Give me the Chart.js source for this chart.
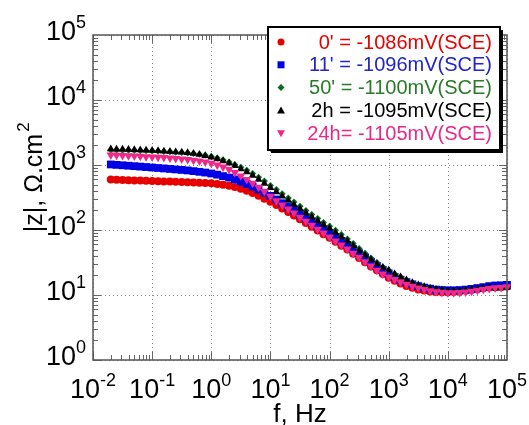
<!DOCTYPE html>
<html>
<head>
<meta charset="utf-8">
<script src="https://cdn.jsdelivr.net/npm/chart.js@4.4.0/dist/chart.umd.min.js"></script>
<style>
  html, body { margin: 0; padding: 0; background: #fff; }
  canvas { display: block; }
</style>
</head>
<body>
<canvas id="bodeChart" width="529" height="425"></canvas>
<script>
// frequencies (Hz) and |Z| (ohm.cm2), ~10 points per decade
const freqHz = [0.02, 0.025, 0.0316, 0.0398, 0.05, 0.063, 0.079,
    0.1, 0.126, 0.158, 0.2, 0.25, 0.316, 0.398, 0.5, 0.63, 0.79,
    1, 1.26, 1.58, 2, 2.5, 3.16, 3.98, 5, 6.3, 7.9,
    10, 12.6, 15.8, 20, 25, 31.6, 39.8, 50, 63, 79,
    100, 126, 158, 200, 251, 316, 398, 501, 631, 794,
    1000, 1259, 1585, 1995, 2512, 3162, 3981, 5012, 6310, 7943,
    10000, 12589, 15849, 19953, 25119, 31623, 39811, 50119, 63096, 79433,
    100000];

const z0min = [600, 595, 590, 585, 580, 575, 570,
    565, 562, 558, 555, 552, 548, 545, 540, 535, 530,
    522, 512, 498, 480, 458, 432, 402, 370, 337, 303,
    272, 243, 215, 190, 167, 146, 128, 112, 98, 86,
    76, 66, 57, 50, 43, 37, 32, 27.5, 24, 21,
    18.5, 16.5, 15, 13.8, 12.9, 12.2, 11.7, 11.3, 11.1, 11.0,
    11.0, 11.1, 11.3, 11.6, 11.9, 12.3, 12.7, 13.0, 13.2, 13.3,
    13.5];
const z11min = [1020, 1005, 990, 975, 960, 945, 930,
    915, 900, 885, 870, 855, 840, 825, 805, 785, 765,
    740, 710, 675, 640, 600, 555, 510, 465, 420, 375,
    335, 295, 258, 226, 198, 173, 151, 132, 116, 102,
    89, 78, 68, 59, 51, 44, 38, 32.5, 28, 24.5,
    21.5, 19, 17.2, 15.8, 14.6, 13.7, 13.0, 12.5, 12.1, 11.9,
    11.8, 11.8, 11.9, 12.1, 12.4, 12.8, 13.2, 13.7, 14.0, 14.1,
    14.3];
const z50min = [1700, 1695, 1690, 1680, 1670, 1660, 1650,
    1640, 1625, 1610, 1595, 1575, 1555, 1530, 1500, 1460, 1410,
    1350, 1280, 1200, 1110, 1020, 925, 830, 740, 650, 565,
    485, 420, 362, 312, 270, 232, 200, 173, 150, 130,
    114, 99, 85, 73, 62, 52, 44, 37, 31.5, 27,
    24, 21, 19, 17, 15.5, 14.3, 13.4, 12.7, 12.2, 11.9,
    11.6, 11.5, 11.6, 11.8, 12.0, 12.4, 12.7, 12.8, 12.7, 12.8,
    13.0];
const z2h = [1760, 1750, 1740, 1725, 1710, 1695, 1680,
    1665, 1650, 1630, 1610, 1590, 1565, 1540, 1500, 1450, 1390,
    1320, 1240, 1150, 1060, 970, 870, 780, 690, 600, 520,
    445, 385, 330, 285, 245, 212, 183, 158, 137, 120,
    105, 91, 78, 67, 57, 48, 41, 35, 30, 26.5,
    24, 21, 19, 17, 15.5, 14.3, 13.4, 12.7, 12.2, 11.9,
    11.6, 11.5, 11.6, 11.8, 12.1, 12.5, 12.8, 12.9, 12.7, 12.8,
    13.1];
const z24h = [1420, 1410, 1400, 1390, 1375, 1360, 1345,
    1330, 1315, 1300, 1280, 1260, 1240, 1215, 1185, 1150, 1110,
    1060, 1000, 930, 850, 765, 680, 600, 525, 455, 390,
    330, 283, 243, 210, 182, 157, 136, 118, 103, 90,
    78, 68, 59, 51, 44, 38, 32.5, 28, 24, 21,
    19, 17.3, 15.8, 14.6, 13.6, 12.8, 12.1, 11.6, 11.2, 11.0,
    10.8, 10.8, 10.9, 11.1, 11.4, 11.8, 12.2, 12.6, 12.9, 13.1,
    13.4];

const seriesLabels = ["0' = -1086mV(SCE)", "11' = -1096mV(SCE)", "50' = -1100mV(SCE)",
    "2h = -1095mV(SCE)", "24h= -1105mV(SCE)"];

// tick labels: base "10" with exponent
const xTickExp = ['-2', '-1', '0', '1', '2', '3', '4', '5'];
const yTickExp = ['0', '1', '2', '3', '4', '5'];

const FONT = "'Liberation Sans', Arial, sans-serif";

const styles = [
    { color: '#e60000', text: '#e60000', shape: 'circle', r: 4, rot: 0 },
    { color: '#0000e6', text: '#2323c8', shape: 'rect', r: 5.5, rot: 0 },
    { color: '#0b6b1f', text: '#2a7a2a', shape: 'rectRot', r: 3.5, rot: 0 },
    { color: '#000000', text: '#000000', shape: 'triangle', r: 4.5, rot: 0 },
    { color: '#f0288c', text: '#e8288c', shape: 'triangle', r: 5, rot: 180 }
];
const seriesValues = [z0min, z11min, z50min, z2h, z24h];

function drawPow(ctx, exp, x, y, align) {
    // draws "10" + superscript exponent; x is centre or right edge
    ctx.font = '27px ' + FONT;
    const wb = ctx.measureText('10').width;
    ctx.font = '18px ' + FONT;
    const ws = ctx.measureText(exp).width;
    let left = align === 'right' ? x - wb - ws : x - (wb + ws) / 2;
    ctx.textAlign = 'left';
    ctx.textBaseline = 'alphabetic';
    ctx.font = '27px ' + FONT;
    ctx.fillText('10', left, y);
    ctx.font = '18px ' + FONT;
    ctx.fillText(exp, left + wb, y - 12);
}

function legendMarker(ctx, st, x, y) {
    ctx.fillStyle = st.color;
    ctx.beginPath();
    const s = 3.5;
    if (st.shape === 'circle') {
        ctx.arc(x, y, s, 0, Math.PI * 2);
    } else if (st.shape === 'rect') {
        ctx.rect(x - s, y - s, 2 * s, 2 * s);
    } else if (st.shape === 'rectRot') {
        ctx.moveTo(x, y - 3.5); ctx.lineTo(x + 3.5, y); ctx.lineTo(x, y + 3.5); ctx.lineTo(x - 3.5, y);
    } else if (st.rot === 180) {
        ctx.moveTo(x - 4, y - 3); ctx.lineTo(x + 4, y - 3); ctx.lineTo(x, y + 4);
    } else {
        ctx.moveTo(x - 4, y + 3); ctx.lineTo(x + 4, y + 3); ctx.lineTo(x, y - 4);
    }
    ctx.closePath();
    ctx.fill();
}

const bodeFrame = {
    id: 'bodeFrame',
    beforeDatasetsDraw(chart) {
        const { ctx, chartArea: a, scales } = chart;
        ctx.save();
        ctx.strokeStyle = '#8a8a8a';
        ctx.lineWidth = 1;
        ctx.setLineDash([1, 3]);
        xTickExp.forEach(e => {
            const px = Math.round(scales.x.getPixelForValue(Math.pow(10, +e))) + 0.5;
            ctx.beginPath(); ctx.moveTo(px, a.top); ctx.lineTo(px, a.bottom); ctx.stroke();
        });
        yTickExp.forEach(e => {
            const py = Math.round(scales.y.getPixelForValue(Math.pow(10, +e))) + 0.5;
            ctx.beginPath(); ctx.moveTo(a.left, py); ctx.lineTo(a.right, py); ctx.stroke();
        });
        ctx.restore();
    },
    afterDatasetsDraw(chart) {
        const { ctx, chartArea: a, scales } = chart;
        ctx.save();

        // minor / major ticks on all four sides
        ctx.strokeStyle = '#666';
        ctx.lineWidth = 1;
        for (let d = -2; d < 5; d++) {
            for (let m = 1; m <= 9; m++) {
                const px = Math.round(scales.x.getPixelForValue(m * Math.pow(10, d))) + 0.5;
                const len = m === 1 ? 8 : 5;
                ctx.beginPath();
                ctx.moveTo(px, a.bottom); ctx.lineTo(px, a.bottom - len);
                ctx.moveTo(px, a.top); ctx.lineTo(px, a.top + len);
                ctx.stroke();
            }
        }
        for (let d = 0; d < 5; d++) {
            for (let m = 1; m <= 9; m++) {
                const py = Math.round(scales.y.getPixelForValue(m * Math.pow(10, d))) + 0.5;
                const len = m === 1 ? 8 : 5;
                ctx.beginPath();
                ctx.moveTo(a.left, py); ctx.lineTo(a.left + len, py);
                ctx.moveTo(a.right, py); ctx.lineTo(a.right - len, py);
                ctx.stroke();
            }
        }

        // frame
        ctx.strokeStyle = '#555';
        ctx.lineWidth = 1.5;
        ctx.strokeRect(a.left, a.top, a.right - a.left, a.bottom - a.top);

        // tick labels
        ctx.fillStyle = '#000';
        xTickExp.forEach(e => {
            drawPow(ctx, e, scales.x.getPixelForValue(Math.pow(10, +e)), a.bottom + 38, 'center');
        });
        yTickExp.forEach(e => {
            drawPow(ctx, e, a.left - 7, scales.y.getPixelForValue(Math.pow(10, +e)) + 5, 'right');
        });

        // axis titles
        ctx.font = '26px ' + FONT;
        ctx.textAlign = 'center';
        ctx.textBaseline = 'alphabetic';
        ctx.fillText('f, Hz', (a.left + a.right) / 2, 422);
        ctx.save();
        ctx.translate(42, 178);
        ctx.rotate(-Math.PI / 2);
        ctx.font = '25px ' + FONT;
        const yt = '|z|, \u03A9.cm';
        const wt = ctx.measureText(yt).width;
        ctx.textAlign = 'left';
        ctx.fillText(yt, -wt / 2 - 5, 0);
        ctx.font = '17px ' + FONT;
        ctx.fillText('2', wt / 2 - 3, -13);
        ctx.restore();

        // legend box with shadow
        const bx = 268, by = 27, bw = 232, bh = 123;
        ctx.fillStyle = '#000';
        ctx.fillRect(bx + 3, by + 3, bw, bh);
        ctx.fillStyle = '#fff';
        ctx.fillRect(bx, by, bw, bh);
        ctx.strokeStyle = '#000';
        ctx.lineWidth = 2;
        ctx.strokeRect(bx, by, bw, bh);

        ctx.font = '20px ' + FONT;
        ctx.textAlign = 'right';
        ctx.textBaseline = 'middle';
        seriesLabels.forEach((lbl, i) => {
            const y = by + 15 + i * 22.8;
            legendMarker(ctx, styles[i], 281, y);
            ctx.fillStyle = styles[i].text;
            ctx.fillText(lbl, 492, y + 1);
        });

        ctx.restore();
    }
};

const datasets = seriesValues.map((vals, i) => ({
    label: seriesLabels[i],
    data: freqHz.map((f, k) => ({ x: f, y: vals[k] })),
    showLine: false,
    pointStyle: styles[i].shape,
    pointRotation: styles[i].rot,
    pointRadius: styles[i].r,
    pointBackgroundColor: styles[i].color,
    pointBorderColor: styles[i].color,
    pointBorderWidth: 0,
    clip: false,
    order: 5 - i
}));

new Chart(document.getElementById('bodeChart'), {
    type: 'scatter',
    data: { datasets },
    options: {
        responsive: false,
        animation: false,
        layout: { padding: { left: 0, top: 35, right: 22, bottom: 0 } },
        plugins: { legend: { display: false }, tooltip: { enabled: false } },
        scales: {
            x: {
                type: 'logarithmic', min: 0.01, max: 100000,
                ticks: { display: false }, grid: { display: false }, border: { display: false },
                afterFit: s => { s.height = 65; }
            },
            y: {
                type: 'logarithmic', min: 1, max: 100000,
                ticks: { display: false }, grid: { display: false }, border: { display: false },
                afterFit: s => { s.width = 93; }
            }
        }
    },
    plugins: [bodeFrame]
});
</script>
</body>
</html>
